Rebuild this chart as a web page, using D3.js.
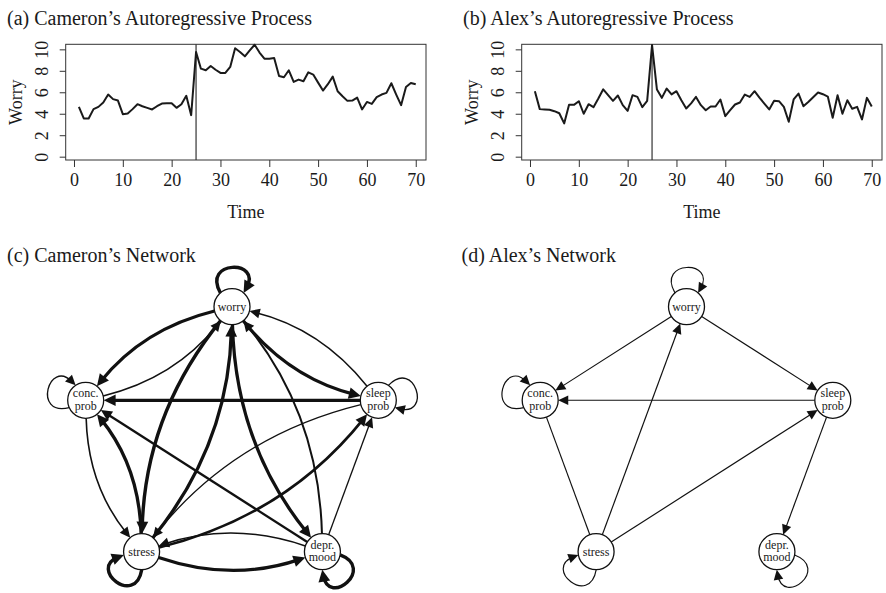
<!DOCTYPE html>
<html>
<head>
<meta charset="utf-8">
<script src="https://cdn.jsdelivr.net/npm/d3@7"></script>
<style>
  body { margin: 0; background: #fff; }
  svg { display: block; }
  text { font-family: "Liberation Serif", serif; fill: #1a1a1a; }
</style>
</head>
<body>
<div id="chart"></div>
<script>
// worry ratings (t = 1..70)
const cameronWorry = [4.64,3.56,3.56,4.43,4.64,5.05,5.79,5.36,5.23,3.96,
  4.02,4.43,4.89,4.70,4.55,4.40,4.70,4.95,4.98,4.98,
  4.55,4.89,5.67,3.87,9.75,8.20,8.05,8.45,8.10,7.80,
  7.80,8.36,10.1,9.75,9.35,9.90,10.43,9.70,9.13,9.13,
  9.20,7.52,7.40,8.05,6.97,7.18,7.03,7.86,7.65,6.90,
  6.16,6.75,7.46,6.10,5.63,5.20,5.23,5.50,4.40,5.10,
  4.92,5.54,5.79,5.94,6.84,5.79,4.80,6.50,6.87,6.75];
const alexWorry = [6.10,4.43,4.40,4.37,4.24,4.05,3.10,4.83,4.83,5.17,
  4.00,4.89,4.61,5.42,6.28,5.73,5.20,5.70,4.80,4.27,
  5.73,5.57,4.61,5.20,10.4,6.25,5.48,6.35,5.80,6.10,
  5.26,4.49,4.97,5.57,4.80,4.33,4.67,4.67,5.33,3.78,
  4.33,4.86,5.05,5.79,5.57,6.10,5.50,4.95,4.40,5.20,
  5.17,4.64,3.25,5.33,5.88,4.70,5.10,5.54,5.98,5.82,
  5.60,3.62,5.73,4.00,5.26,4.46,4.64,3.47,5.48,4.67];
const xTicks = [0,10,20,30,40,50,60,70];
const yTicks = [0,2,4,6,8,10];
const shockTime = 25;

// nodes, in order round the pentagon (starting at the top, going anticlockwise)
const nodeNames = ["worry","conc","stress","depr","sleep"];
const nodeLabels = [["worry"],["conc.","prob"],["stress"],["depr.","mood"],["sleep","prob"]];

// [from, to, strength]  (strength drives the line width); dir=false -> no arrow
const cameronEdges = [
  ["worry","worry",0.9], ["conc","conc",0.15], ["sleep","sleep",0.15],
  ["stress","stress",0.9], ["depr","depr",0.9],
  ["worry","conc",0.85], ["conc","worry",0.2],
  ["worry","sleep",0.85], ["sleep","worry",0.2],
  ["worry","stress",0.9], ["stress","worry",0.85],
  ["worry","depr",0.85], ["depr","worry",0.4],
  ["sleep","conc",0.85],
  ["conc","stress",0.25], ["stress","conc",0.85],
  ["depr","conc",0.5],
  ["sleep","stress",0.15], ["stress","sleep",0.65],
  ["depr","sleep",0.15],
  ["stress","depr",0.85], ["depr","stress",0.25]
];
const alexEdges = [
  ["worry","worry",0.1], ["conc","conc",0.1], ["stress","stress",0.1], ["depr","depr",0.1],
  ["worry","conc",0.1], ["worry","sleep",0.1], ["sleep","conc",0.1],
  ["stress","worry",0.1], ["stress","sleep",0.1], ["sleep","depr",0.1],
  ["conc","stress",0.1,false]
];

const W = 886, H = 593;
const svg = d3.select("#chart").append("svg").attr("width", W).attr("height", H);

// ---------- time series panels ----------
function drawSeries(values, off, title) {
  const g = svg.append("g");
  const x = d3.scaleLinear().domain([-1.7, 72.1]).range([65.7 + off, 426 + off]);
  const y = d3.scaleLinear().domain([-0.31, 10.47]).range([160, 44.3]);

  g.append("text").attr("x", 7 + off).attr("y", 25).style("font-size", "20px").text(title);

  g.append("rect")
    .attr("x", x.range()[0]).attr("y", y.range()[1])
    .attr("width", x.range()[1] - x.range()[0]).attr("height", y.range()[0] - y.range()[1])
    .attr("fill", "none").attr("stroke", "#333").attr("stroke-width", 1);

  // x axis
  const xa = g.append("g").attr("transform", `translate(0,${y.range()[0]})`)
    .call(d3.axisBottom(x).tickValues(xTicks).tickSize(7).tickPadding(6));
  xa.select(".domain").remove();
  xa.selectAll("line").attr("stroke", "#333");
  xa.selectAll("text").style("font-size", "18px").attr("font-family", null).attr("fill", "#1a1a1a");

  // y axis (R style: labels parallel to the axis)
  const ya = g.append("g").attr("transform", `translate(${x.range()[0]},0)`)
    .call(d3.axisLeft(y).tickValues(yTicks).tickSize(6));
  ya.select(".domain").remove();
  ya.selectAll("line").attr("stroke", "#333");
  ya.selectAll("text")
    .attr("x", null).attr("dy", null)
    .attr("transform", `translate(-17.5,0) rotate(-90)`)
    .attr("text-anchor", "middle")
    .style("font-size", "18px").attr("fill", "#1a1a1a");

  g.append("text")
    .attr("transform", `translate(${21.5 + off},${(y.range()[0] + y.range()[1]) / 2}) rotate(-90)`)
    .attr("text-anchor", "middle").style("font-size", "18px").text("Worry");
  g.append("text")
    .attr("x", (x.range()[0] + x.range()[1]) / 2).attr("y", 218.3)
    .attr("text-anchor", "middle").style("font-size", "18px").text("Time");

  g.append("line")
    .attr("x1", x(shockTime)).attr("x2", x(shockTime))
    .attr("y1", y.range()[1]).attr("y2", y.range()[0])
    .attr("stroke", "#333").attr("stroke-width", 1.2);

  const line = d3.line().x((d, i) => x(i + 1)).y(d => y(d));
  g.append("path").datum(values).attr("d", line)
    .attr("fill", "none").attr("stroke", "#1a1a1a").attr("stroke-width", 2)
    .attr("stroke-linejoin", "round");
}

drawSeries(cameronWorry, 0, "(a) Cameron\u2019s Autoregressive Process");
drawSeries(alexWorry, 456, "(b) Alex\u2019s Autoregressive Process");

// ---------- network panels ----------
const R = 18;
const unit = (dx, dy) => { const l = Math.hypot(dx, dy) || 1; return [dx / l, dy / l]; };

function arrowHead(g, tip, dir, sw) {
  const len = 9 + 0.9 * sw, hw = 4.2 + 0.5 * sw;
  const bx = tip[0] - dir[0] * len, by = tip[1] - dir[1] * len;
  const p = [-dir[1], dir[0]];
  g.append("path")
    .attr("d", `M${tip[0]},${tip[1]}L${bx + p[0] * hw},${by + p[1] * hw}L${bx - p[0] * hw},${by - p[1] * hw}Z`)
    .attr("fill", "#111");
  return len;
}

function drawNetwork(edges, off, title) {
  const g = svg.append("g");
  const xs = d3.scaleLinear().domain([-0.951, 0.951]).range([85.7 + off, 378.3 + off]);
  const ys = d3.scaleLinear().domain([-0.809, 1]).range([551.7, 306.7]);

  g.append("text").attr("x", 7 + off).attr("y", 261.7).style("font-size", "20px").text(title);

  const pos = {};
  nodeNames.forEach((n, i) => {
    const a = (90 + 72 * i) * Math.PI / 180;
    pos[n] = [xs(Math.cos(a)), ys(Math.sin(a))];
  });
  const c = [xs(0), ys(0)];
  const keys = new Set(edges.map(e => e[0] + "|" + e[1]));
  const eg = g.append("g"), ag = g.append("g");

  edges.forEach(([s, t, w, directed = true]) => {
    const sw = 0.9 + 2.8 * w;
    const A = pos[s], B = pos[t];
    if (s === t) {
      // self loop pointing away from the layout centre, drawn clockwise
      const th = Math.atan2(A[1] - c[1], A[0] - c[0]);
      const al = 40 * Math.PI / 180, be = 33 * Math.PI / 180, k = 56;
      const pt = (ang, d) => [A[0] + d * Math.cos(ang), A[1] + d * Math.sin(ang)];
      const S = pt(th - al, R), E = pt(th + al, R), P1 = pt(th - be, k), P2 = pt(th + be, k);
      const dir = unit(E[0] - P2[0], E[1] - P2[1]);
      const len = arrowHead(ag, E, dir, sw);
      const E2 = [E[0] - dir[0] * len * 0.5, E[1] - dir[1] * len * 0.5];
      eg.append("path").attr("d", `M${S}C${P1} ${P2} ${E2}`)
        .attr("fill", "none").attr("stroke", "#111").attr("stroke-width", sw);
      return;
    }
    const L = Math.hypot(B[0] - A[0], B[1] - A[1]);
    const d = unit(B[0] - A[0], B[1] - A[1]);
    const bend = keys.has(t + "|" + s) ? 0.17 * L : 0;
    const Q = [(A[0] + B[0]) / 2 - d[1] * bend, (A[1] + B[1]) / 2 + d[0] * bend];
    const us = unit(Q[0] - A[0], Q[1] - A[1]), ue = unit(Q[0] - B[0], Q[1] - B[1]);
    const S = [A[0] + us[0] * R, A[1] + us[1] * R];
    let E = [B[0] + ue[0] * R, B[1] + ue[1] * R];
    if (directed) {
      const dir = [-ue[0], -ue[1]];
      const len = arrowHead(ag, E, dir, sw);
      E = [E[0] - dir[0] * len * 0.5, E[1] - dir[1] * len * 0.5];
    }
    eg.append("path").attr("d", `M${S}Q${Q} ${E}`)
      .attr("fill", "none").attr("stroke", "#111").attr("stroke-width", sw);
  });

  const ng = g.append("g").selectAll("g").data(nodeNames).join("g")
    .attr("transform", n => `translate(${pos[n]})`);
  ng.append("circle").attr("r", R).attr("fill", "#fff").attr("stroke", "#111").attr("stroke-width", 1.3);
  ng.each(function (n, i) {
    const lab = nodeLabels[i];
    const t = d3.select(this).append("text").attr("text-anchor", "middle").style("font-size", "12px");
    if (lab.length === 1) t.append("tspan").attr("x", 0).attr("y", 3.8).text(lab[0]);
    else {
      t.append("tspan").attr("x", 0).attr("y", -3.2).text(lab[0]);
      t.append("tspan").attr("x", 0).attr("y", 9.6).text(lab[1]);
    }
  });
}

drawNetwork(cameronEdges, 0, "(c) Cameron\u2019s Network");
drawNetwork(alexEdges, 454.5, "(d) Alex\u2019s Network");
</script>
</body>
</html>
